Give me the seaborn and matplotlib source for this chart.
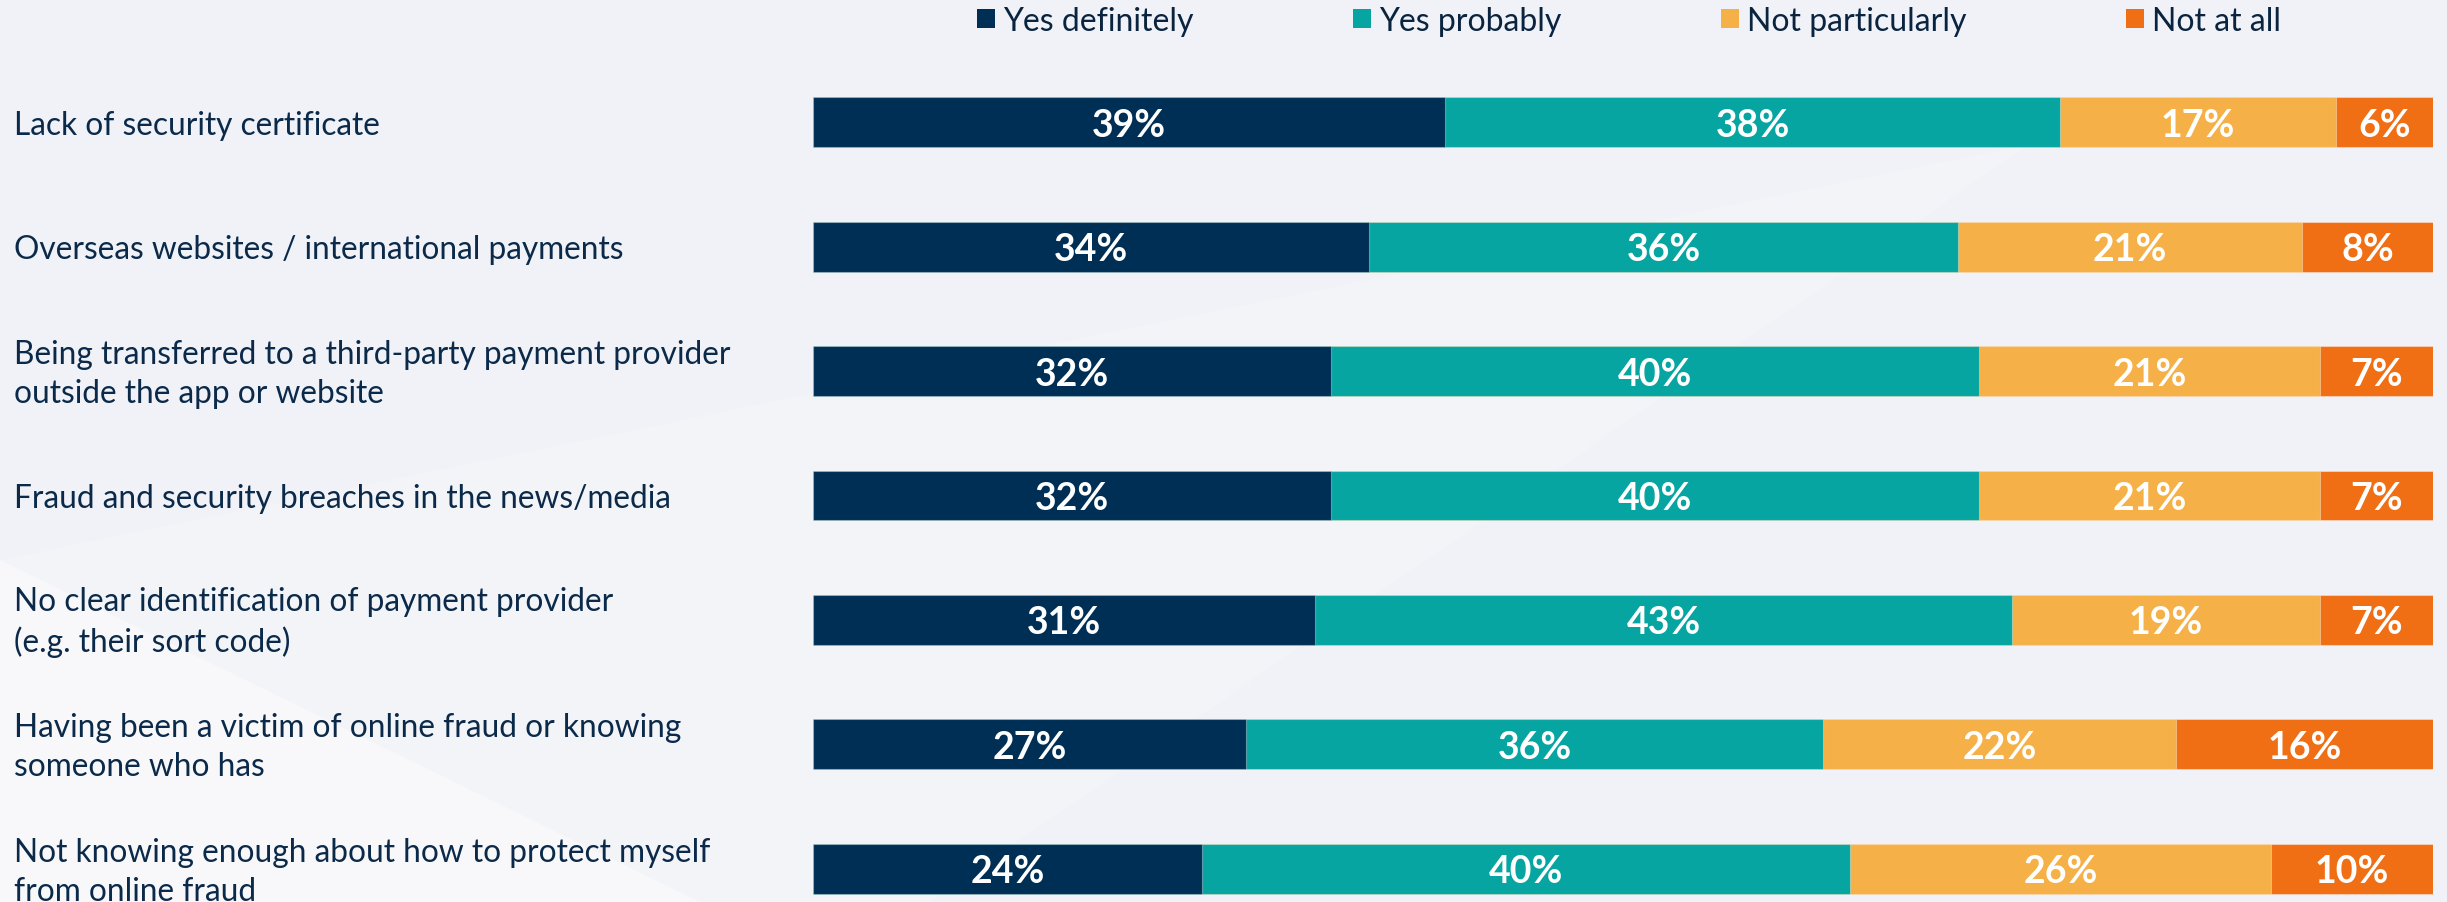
import numpy as np
import pandas as pd
import matplotlib
matplotlib.use("Agg")
import matplotlib.pyplot as plt
import matplotlib.transforms as mtransforms
from matplotlib.patches import Polygon, Patch
import seaborn as sns

# ---- data -------------------------------------------------------------
items = [
    "Lack of security certificate",
    "Overseas websites / international payments",
    "Being transferred to a third-party payment provider\noutside the app or website",
    "Fraud and security breaches in the news/media",
    "No clear identification of payment provider\n(e.g. their sort code)",
    "Having been a victim of online fraud or knowing\nsomeone who has",
    "Not knowing enough about how to protect myself\nfrom online fraud",
]
responses = ["Yes definitely", "Yes probably", "Not particularly", "Not at all"]
yes_definitely = [39, 34, 32, 32, 31, 27, 24]
yes_probably = [38, 36, 40, 40, 43, 36, 40]
not_particularly = [17, 21, 21, 21, 19, 22, 26]
not_at_all = [6, 8, 7, 7, 7, 16, 10]

colors = ["#002F56", "#07A5A1", "#F5B147", "#F06E14"]
text_color = "#0B2A4A"

# ---- figure -----------------------------------------------------------
W, H, DPI = 2447, 903, 100

sns.set_theme(style="white")
plt.rcParams["font.family"] = ["Lato", "DejaVu Sans"]

fig = plt.figure(figsize=(W / DPI, H / DPI), dpi=DPI)
fig.patch.set_facecolor("#F0F2F7")


def facet(points, color):
    """Soft background facet given in pixel coordinates (origin top-left)."""
    pts = [(x / W, 1 - y / H) for x, y in points]
    fig.add_artist(Polygon(pts, closed=True, transform=fig.transFigure,
                           facecolor=color, edgecolor="none", zorder=-2))


facet([(2030, 145), (930, H), (0, H), (0, 561)], "#F3F4F8")
facet([(0, 561), (700, H), (0, H)], "#F8F8FB")

# ---- stacked 100 % bars ----------------------------------------------
df = pd.DataFrame({
    "item": items,
    "Yes definitely": yes_definitely,
    "Yes probably": yes_probably,
    "Not particularly": not_particularly,
    "Not at all": not_at_all,
})
totals = df[responses].sum(axis=1)
shares = df[responses].div(totals, axis=0) * 100
cum = shares.cumsum(axis=1)

ax = fig.add_axes([813 / W, 0, 1620 / W, 1])
ax.patch.set_alpha(0)

for r, c in reversed(list(zip(responses, colors))):
    layer = pd.DataFrame({"item": items, "value": cum[r]})
    sns.barplot(data=layer, x="value", y="item", orient="h", color=c,
                saturation=1, width=0.4, errorbar=None,
                edgecolor=(1, 1, 1, 0.35), linewidth=0.8, ax=ax)

ax.set_xlim(0, 100)
ax.set_ylim(6.268, -0.991)
ax.axis("off")

# value labels inside each segment
to_baseline = mtransforms.ScaledTranslation(0, -13.5 / DPI, fig.dpi_scale_trans)
for r in responses:
    mids = cum[r] - shares[r] / 2
    for j, (m, v) in enumerate(zip(mids, df[r])):
        ax.text(m, j, f"{v}%", ha="center", va="baseline",
                transform=ax.transData + to_baseline,
                color="white", fontsize=27, fontweight="bold")

# category labels on the left (anchored on the last line's baseline)
label_trans = mtransforms.blended_transform_factory(fig.transFigure, ax.transData)
cap, line_gap = 23, 39
for j, lab in enumerate(items):
    n = lab.count("\n") + 1
    off = cap / 2 + (n - 1) * line_gap / 2
    tr = label_trans + mtransforms.ScaledTranslation(0, -off / DPI, fig.dpi_scale_trans)
    ax.text(14 / W, j, lab, ha="left", va="baseline", transform=tr,
            fontsize=22.8, color=text_color, linespacing=1.37)

# legend
handles = [Patch(facecolor=c, edgecolor="none") for c in colors]
fig.legend(handles, responses, loc="center left",
           bbox_to_anchor=(977 / W, 1 - 22 / H), ncol=4, frameon=False,
           fontsize=23, handlelength=0.56, handleheight=0.56,
           handletextpad=0.25, columnspacing=5.0, borderpad=0,
           borderaxespad=0, labelcolor="#0A2440")

fig.savefig("out.png", dpi=DPI, facecolor=fig.get_facecolor())
